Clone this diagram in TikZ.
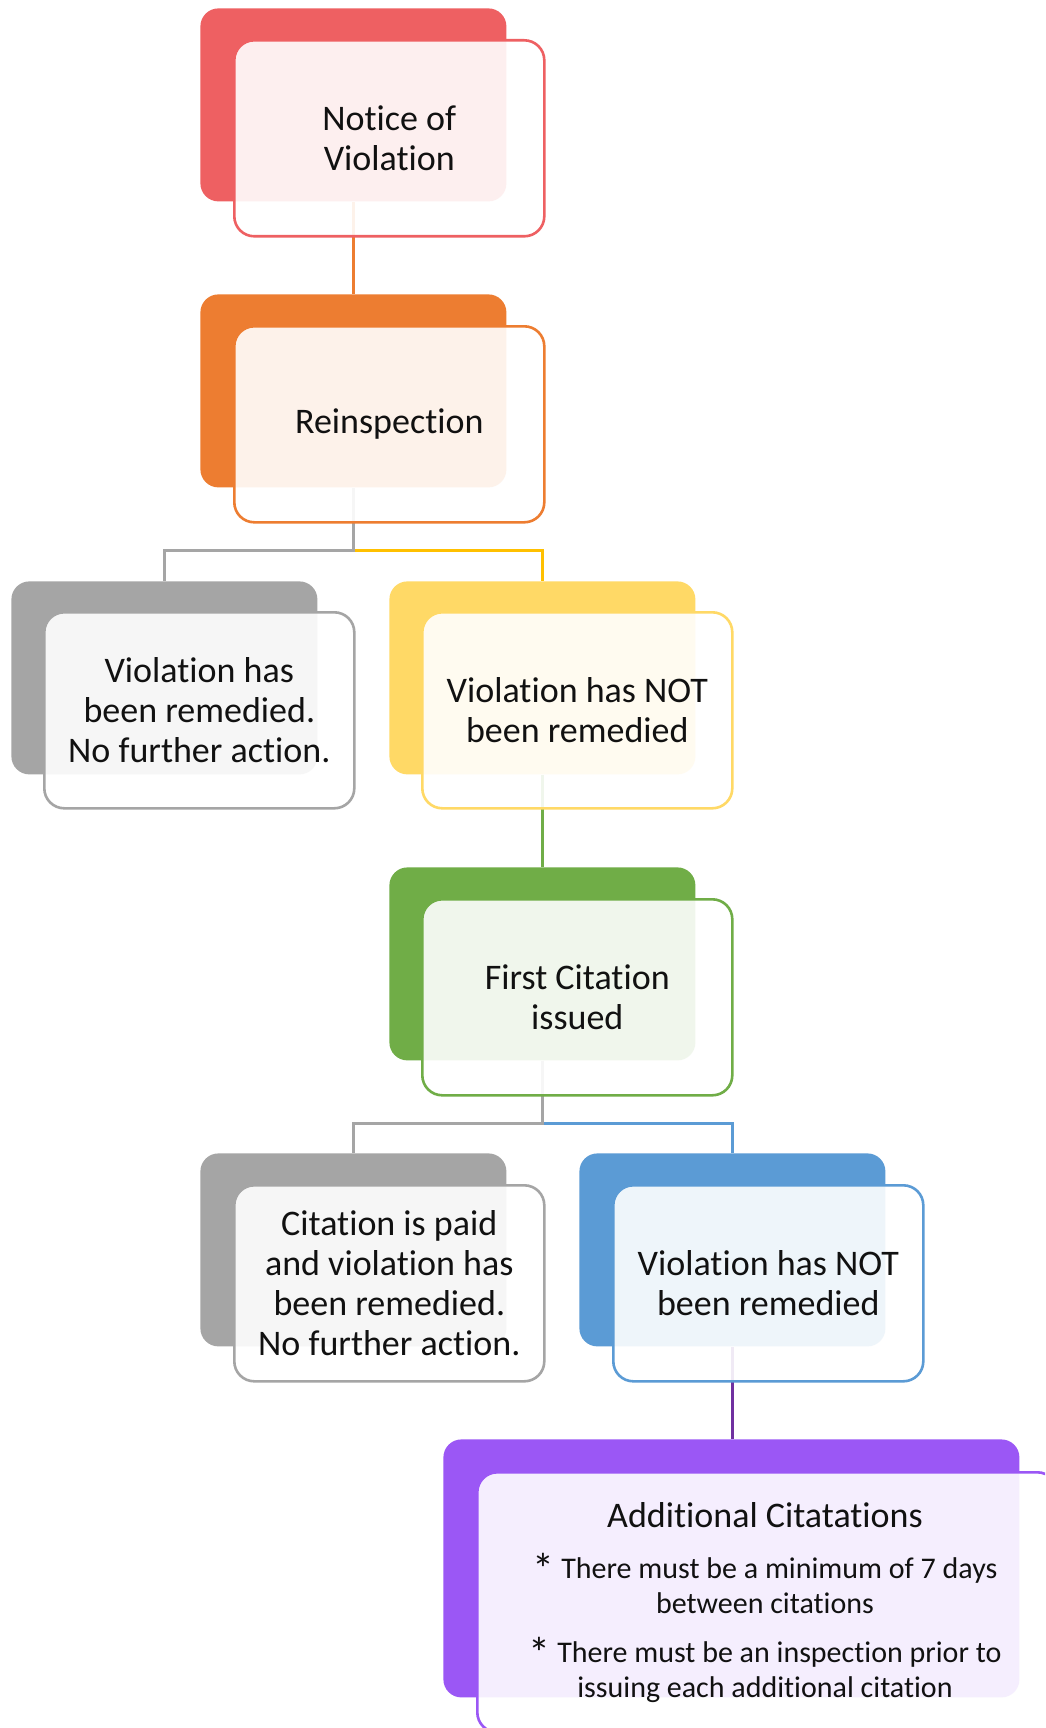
\documentclass[tikz,border=0pt]{standalone}
\usepackage{fontspec}
\setmainfont{Carlito}[Ligatures={NoCommon,NoContextual,NoRare}, Contextuals=NoAlternate]
\usetikzlibrary{calc}
\definecolor{cRed}{HTML}{EE6062}
\definecolor{cOrange}{HTML}{ED7D31}
\definecolor{cGray}{HTML}{A5A5A5}
\definecolor{cYellow}{HTML}{FFD966}
\definecolor{cYellowLine}{HTML}{FFC000}
\definecolor{cGreen}{HTML}{70AD47}
\definecolor{cBlue}{HTML}{5B9BD5}
\definecolor{cPurple}{HTML}{9B57F5}
\definecolor{cPurpleLine}{HTML}{7030A0}
\definecolor{cText}{HTML}{111111}
\pgfdeclarelayer{bg}
\pgfsetlayers{bg,main}
\tikzset{
  backbox/.style={fill=#1, draw=none, rounded corners=9pt, anchor=north west,
    minimum width=153pt, minimum height=96.5pt, inner sep=0pt},
  frontbox/.style={draw=#1, line width=1.3pt, fill=white, fill opacity=0.9, text opacity=1,
    rounded corners=10pt, anchor=north west, minimum width=155pt, minimum height=98pt,
    inner sep=2pt, align=center, font=\fontsize{18}{20}\selectfont, text=cText},
  link/.style={draw=#1, line width=1.5pt},
  titletext/.style={anchor=base, inner sep=0pt, text=cText, font=\fontsize{18}{20}\selectfont},
  notetext/.style={anchor=base, inner sep=0pt, text=cText, font=\fontsize{15}{17.5}\selectfont},
}
\newcommand{\bigast}{\raisebox{-3pt}{\fontsize{22}{22}\selectfont *}}
\begin{document}
\begin{tikzpicture}[x=0.5pt,y=-0.5pt]
\useasboundingbox (0,0) rectangle (1045,1728);
\clip (0,0) rectangle (1045,1728);

% back boxes
\node[backbox=cRed]    (b1back) at (200,8) {};
\node[backbox=cOrange] (b2back) at (200,294) {};
\node[backbox=cGray]   (b3back) at (11,581) {};
\node[backbox=cYellow] (b4back) at (389,581) {};
\node[backbox=cGreen]  (b5back) at (389,867) {};
\node[backbox=cGray]   (b6back) at (200,1153) {};
\node[backbox=cBlue]   (b7back) at (579,1153) {};
\node[backbox=cPurple, minimum width=288pt, minimum height=129pt] (b8back) at (443,1439) {};

% front boxes
\node[frontbox=cRed]    (b1) at (233,39) {Notice of\\Violation};
\node[frontbox=cOrange] (b2) at (233,325) {Reinspection};
\node[frontbox=cGray]   (b3) at (43,611) {Violation has\\been remedied.\\No further action.};
\node[frontbox=cYellow] (b4) at (421,611) {Violation has NOT\\been remedied};
\node[frontbox=cGreen]  (b5) at (421,898) {First Citation\\issued};
\node[frontbox=cGray]   (b6) at (233,1184) {Citation is paid\\and violation has\\been remedied.\\No further action.};
\node[frontbox=cBlue]   (b7) at (612,1184) {Violation has NOT\\been remedied};
\node[frontbox=cPurple, minimum width=290pt, minimum height=130pt] (b8) at (476,1471) {};

% text of the last box
\node[titletext] (t8title) at (765,1527) {Additional Citatations};
\node[notetext]  (t8a1) at (765,1578) {\bigast{} There must be a minimum of 7 days};
\node[notetext]  (t8a2) at (765,1613) {between citations};
\node[notetext]  (t8b1) at (765,1662) {\bigast{} There must be an inspection prior to};
\node[notetext]  (t8b2) at (765,1697) {issuing each additional citation};

% connectors
\begin{pgfonlayer}{bg}
  \fill[white] (0,0) rectangle (1045,1728);
  \coordinate (j2) at ($(b2back.south)+(0,63)$);
  \coordinate (j5) at ($(b5back.south)+(0,63)$);
  \draw[link=cOrange] (b1back.south) -- (b2back.north);
  \draw[link=cYellowLine] (b2back.south |- j2) -| (b4back.north);
  \draw[link=cGray] (b2back.south) -- (b2back.south |- j2) -| (b3back.north);
  \draw[link=cGreen] (b4back.south) -- (b5back.north);
  \draw[link=cBlue] (b5back.south |- j5) -| (b7back.north);
  \draw[link=cGray] (b5back.south) -- (b5back.south |- j5) -| (b6back.north);
  \draw[link=cPurpleLine] (b7back.south) -- (b7back.south |- b8back.north);
\end{pgfonlayer}
\end{tikzpicture}
\end{document}
